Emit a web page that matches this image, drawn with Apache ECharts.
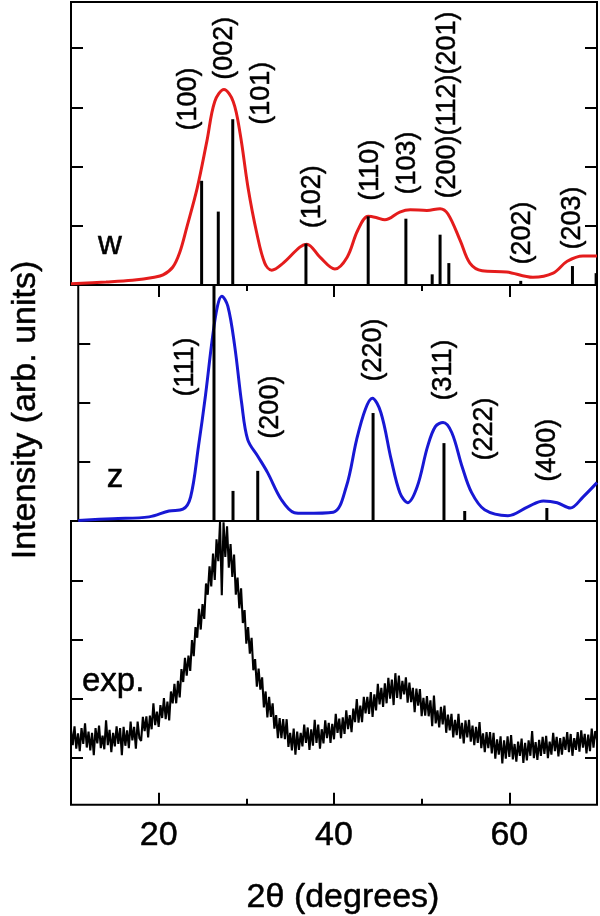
<!DOCTYPE html>
<html>
<head>
<meta charset="utf-8">
<script src="https://cdn.jsdelivr.net/npm/echarts@6/dist/echarts.min.js"></script>
<style>html,body{margin:0;padding:0;background:#fff}#c{width:600px;height:916px}</style>
</head>
<body>
<div id="c"></div>
<script>
// ---- axis data ----
const xMin = 10, xMax = 70;
const xMajorTicks = [20, 40, 60];
const xMinorTicks = [30, 50];
const xTitle = '2θ (degrees)';
const yTitle = 'Intensity (arb. units)';

// ---- panel w (wurtzite) ----
const wCurveX = [10,14,17,19.5,20.5,21.6,22.4,23.2,24.4,25.5,26.4,27.45,28.5,29.3,30.2,31.2,32.1,32.9,34.2,36.1,36.9,38.4,40.1,41.5,42.7,43.9,44.8,45.8,47.5,48.7,50.6,52.1,53.0,54.4,55.5,56.9,59.7,62.7,65.0,66.6,68.4,70];
const wCurveY = [0.02,0.05,0.08,0.13,0.17,0.30,0.55,0.97,1.64,2.43,3.10,3.30,3.10,2.55,1.64,0.87,0.37,0.25,0.37,0.64,0.69,0.47,0.27,0.47,0.92,1.16,1.14,1.10,1.23,1.27,1.26,1.29,1.20,0.75,0.37,0.24,0.22,0.13,0.20,0.40,0.49,0.49];
const wStickX = [24.9,26.8,28.45,36.8,43.9,48.2,51.2,52.1,53.1,61.3,67.2,69.9];
const wStickH = [1.76,1.24,2.80,0.70,1.16,1.12,0.18,0.85,0.37,0.07,0.32,0.20];
const wLabelText = ['(100)','(002)','(101)','(102)','(110)','(103)','(200)(112)(201)','(202)','(203)'];
const wLabelX = [23.46,27.5,31.7,37.5,44.2,48.4,52.9,61.55,67.25];
const wLabelY = [3.14,4.0,3.24,1.49,1.94,2.06,3.04,0.88,1.13];

// ---- panel z (zinc blende) ----
const zCurveX = [10,14,18.2,20.5,22.1,23.0,23.9,24.7,25.5,26.1,26.6,27.3,28.1,28.9,29.6,30.8,31.9,33.5,35.0,36.1,39.5,41.0,42.2,43.2,44.0,45.0,46.2,47.2,48.1,49.2,50.4,51.3,52.2,53.2,54.4,55.5,57.0,59.7,62.0,63.8,65.4,66.9,68.4,70];
const zCurveY = [0.01,0.04,0.07,0.17,0.20,0.41,1.26,2.11,3.08,3.64,3.81,3.64,2.96,2.00,1.38,1.09,0.82,0.36,0.14,0.13,0.15,0.58,1.38,1.89,2.08,1.84,1.04,0.48,0.31,0.58,1.26,1.60,1.67,1.50,0.92,0.48,0.19,0.09,0.24,0.34,0.31,0.22,0.41,0.65];
const zStickX = [25.7,27.9,30.76,44.1,52.3,54.7,64.2];
const zStickH = [4.0,0.51,0.85,1.83,1.32,0.17,0.22];
const zLabelText = ['(111)','(200)','(220)','(311)','(222)','(400)'];
const zLabelX = [22.43,32.24,44.1,52.3,57.0,64.3];
const zLabelY = [2.61,1.93,2.9,2.56,1.56,1.2];

// ---- panel exp. (measured, sampled every 0.2 degrees from 10) ----
const expStart = 10, expStep = 0.2;
const expY = [
1.28,1.01,1.33,0.95,1.21,0.91,1.30,1.03,1.38,0.97,
1.24,0.92,1.22,0.84,1.30,1.04,1.34,0.96,1.17,0.94,
1.43,1.01,1.27,0.89,1.22,0.99,1.33,1.03,1.30,0.84,
1.32,1.00,1.26,0.96,1.41,1.09,1.32,0.95,1.41,1.13,
1.08,1.49,1.25,1.50,1.14,1.51,1.28,1.72,1.35,1.58,
1.32,1.69,1.47,1.81,1.45,1.75,1.43,1.92,1.72,2.05,
1.72,2.10,1.82,2.30,2.08,2.49,2.19,2.53,2.27,2.79,
2.52,3.01,2.83,3.32,2.97,3.40,3.15,3.75,3.56,4.04,
3.70,4.26,3.81,4.50,4.13,4.80,3.55,4.79,4.20,4.72,
4.02,4.42,3.86,4.24,3.56,3.85,3.33,3.67,3.08,3.30,
2.73,3.01,2.56,2.83,2.28,2.47,2.00,2.31,1.95,2.16,
1.65,1.92,1.48,1.83,1.49,1.72,1.29,1.52,1.13,1.47,
1.13,1.45,1.11,1.45,0.98,1.22,0.92,1.29,0.85,1.24,
0.93,1.22,0.99,1.36,1.05,1.31,0.93,1.28,1.00,1.44,
1.05,1.36,0.95,1.28,1.04,1.43,1.13,1.39,1.05,1.37,
1.11,1.54,1.22,1.46,1.13,1.48,1.20,1.60,1.28,1.52,
1.23,1.63,1.40,1.79,1.39,1.68,1.40,1.83,1.55,1.83,
1.54,1.91,1.49,1.87,1.60,2.05,1.70,1.98,1.66,2.06,
1.72,2.15,1.80,2.12,1.69,2.23,1.81,2.19,1.79,2.10,
1.87,2.16,1.73,2.07,1.74,1.98,1.57,1.97,1.68,1.96,
1.50,1.81,1.51,1.84,1.50,1.77,1.33,1.85,1.38,1.60,
1.31,1.66,1.36,1.68,1.22,1.53,1.26,1.54,1.14,1.44,
1.18,1.54,1.12,1.39,1.04,1.43,1.14,1.44,1.07,1.34,
1.01,1.32,1.05,1.40,0.96,1.21,0.89,1.23,0.96,1.23,
0.87,1.22,0.78,1.11,0.85,1.16,0.70,1.09,0.78,1.16,
0.81,1.18,0.77,1.03,0.73,1.07,0.83,1.12,0.71,1.05,
0.75,1.09,0.83,1.25,0.79,1.06,0.76,1.10,0.83,1.15,
0.86,1.17,0.79,1.07,0.85,1.22,0.91,1.15,0.82,1.13,
0.85,1.15,0.93,1.23,0.89,1.20,0.83,1.13,0.93,1.23,
0.90,1.26,0.97,1.20,0.87,1.19,0.91,1.29,0.97,1.25,
1.10];

// ---- panel names ----
const panelNames = ['w', 'z', 'exp.'];
const panelNameX = [13.08, 13.31, 11.25];
const panelNameY = [0.675, 0.73, 2.09];

// ---- y ranges & ticks per panel ----
const yMax = [4.78, 4.0, 4.81];
const yTicks = [[1,2,3,4],[1,2,3],[0.8,1.8,2.8,3.8]];

// ---------------- build ----------------
const FONT = 'Liberation Sans, Arial, Helvetica, sans-serif';
const RED = '#e41c1c', BLUE = '#1818d4', BLACK = '#000';
const HEAVY = {textBorderColor: BLACK, textBorderWidth: 0.5};
const zip = (a, b) => a.map((v, i) => [v, b[i]]);
const expData = expY.map((v, i) => [+(expStart + i * expStep).toFixed(2), v]);

const grids = [
  {left: 71, right: 3, top: 2, height: 283},
  {left: 71, right: 3, top: 285, height: 236},
  {left: 71, right: 3, top: 521, height: 286}
].map(g => Object.assign(g, {show: true, borderColor: BLACK, borderWidth: 2, backgroundColor: 'transparent', containLabel: false}));

function xAx(grid, pos, ticks, len, labels, extra) {
  return Object.assign({
    type: 'value', gridIndex: grid, min: xMin, max: xMax, position: pos,
    axisLine: {show: false},
    axisTick: {show: ticks.length > 0, inside: true, length: len, customValues: ticks, lineStyle: {color: BLACK, width: 2}},
    axisLabel: Object.assign({show: !!labels, customValues: labels || [], fontSize: 34, color: BLACK, fontFamily: FONT, margin: 14}, HEAVY),
    splitLine: {show: false}
  }, extra || {});
}
function yAx(grid, pos, extra) {
  return Object.assign({
    type: 'value', gridIndex: grid, min: 0, max: yMax[grid], position: pos,
    axisLine: {show: false},
    axisTick: {show: true, inside: true, length: 12, customValues: yTicks[grid], lineStyle: {color: BLACK, width: 2}},
    axisLabel: {show: false},
    splitLine: {show: false}
  }, extra || {});
}

const xAxes = [
  xAx(0, 'top', xMajorTicks, 12),
  xAx(0, 'top', xMinorTicks, 6),
  xAx(1, 'bottom', [], 0),
  xAx(2, 'bottom', xMajorTicks, 12, xMajorTicks, {
    name: xTitle, nameLocation: 'middle', nameGap: 76,
    nameTextStyle: Object.assign({fontSize: 34, color: BLACK, fontFamily: FONT, padding: [0, 0, 0, 18]}, HEAVY)
  }),
  xAx(2, 'bottom', xMinorTicks, 6)
];
const yAxes = [
  yAx(0, 'left'), yAx(0, 'right'),
  yAx(1, 'left', {name: yTitle, nameLocation: 'middle', nameRotate: 90, nameGap: 36,
    nameTextStyle: Object.assign({fontSize: 34, color: BLACK, fontFamily: FONT, padding: [0, 14, 0, 0]}, HEAVY)}),
  yAx(1, 'right'),
  yAx(2, 'left'), yAx(2, 'right')
];

function labelSeries(xi, yi, xs, ys, texts, size, rot, align) {
  return {
    type: 'scatter', xAxisIndex: xi, yAxisIndex: yi, symbolSize: 0, silent: true, z: 5,
    itemStyle: {opacity: 1},
    data: xs.map((x, i) => ({value: [x, ys[i]], name: texts[i]})),
    label: Object.assign({show: true, position: 'inside', formatter: p => p.name, rotate: rot,
      align: align, verticalAlign: 'middle', opacity: 1,
      fontSize: size, color: BLACK, fontFamily: FONT}, HEAVY)
  };
}

function stickSeries(xi, yi, xs, hs) {
  return {
    type: 'custom', xAxisIndex: xi, yAxisIndex: yi, z: 3, silent: true,
    data: zip(xs, hs),
    clip: true,
    renderItem: (params, api) => {
      const top = api.coord([api.value(0), api.value(1)]);
      const base = api.coord([api.value(0), 0]);
      return {type: 'rect', shape: {x: top[0] - 1.5, y: top[1], width: 3, height: base[1] - top[1]},
        style: {fill: BLACK}};
    }
  };
}

const series = [
  {type: 'line', xAxisIndex: 0, yAxisIndex: 0, data: zip(wCurveX, wCurveY), smooth: 0.35,
   symbol: 'none', lineStyle: {color: RED, width: 3}, z: 2},
  stickSeries(0, 0, wStickX, wStickH),
  labelSeries(0, 0, wLabelX, wLabelY, wLabelText, 27, 90, 'center'),

  {type: 'line', xAxisIndex: 2, yAxisIndex: 2, data: zip(zCurveX, zCurveY), smooth: 0.35,
   symbol: 'none', lineStyle: {color: BLUE, width: 3}, z: 2},
  stickSeries(2, 2, zStickX, zStickH),
  labelSeries(2, 2, zLabelX, zLabelY, zLabelText, 27, 90, 'center'),

  {type: 'line', xAxisIndex: 3, yAxisIndex: 4, data: expData, symbol: 'none',
   lineStyle: {color: BLACK, width: 2.1}, z: 2},

  labelSeries(0, 0, [panelNameX[0]], [panelNameY[0]], [panelNames[0]], 33, 0, 'left'),
  labelSeries(2, 2, [panelNameX[1]], [panelNameY[1]], [panelNames[1]], 33, 0, 'left'),
  labelSeries(3, 4, [panelNameX[2]], [panelNameY[2]], [panelNames[2]], 33, 0, 'left')
];

const chart = echarts.init(document.getElementById('c'), null, {renderer: 'canvas'});
chart.setOption({
  animation: false,
  backgroundColor: '#fff',
  textStyle: {fontFamily: FONT},
  grid: grids, xAxis: xAxes, yAxis: yAxes, series: series
});
</script>
</body>
</html>
